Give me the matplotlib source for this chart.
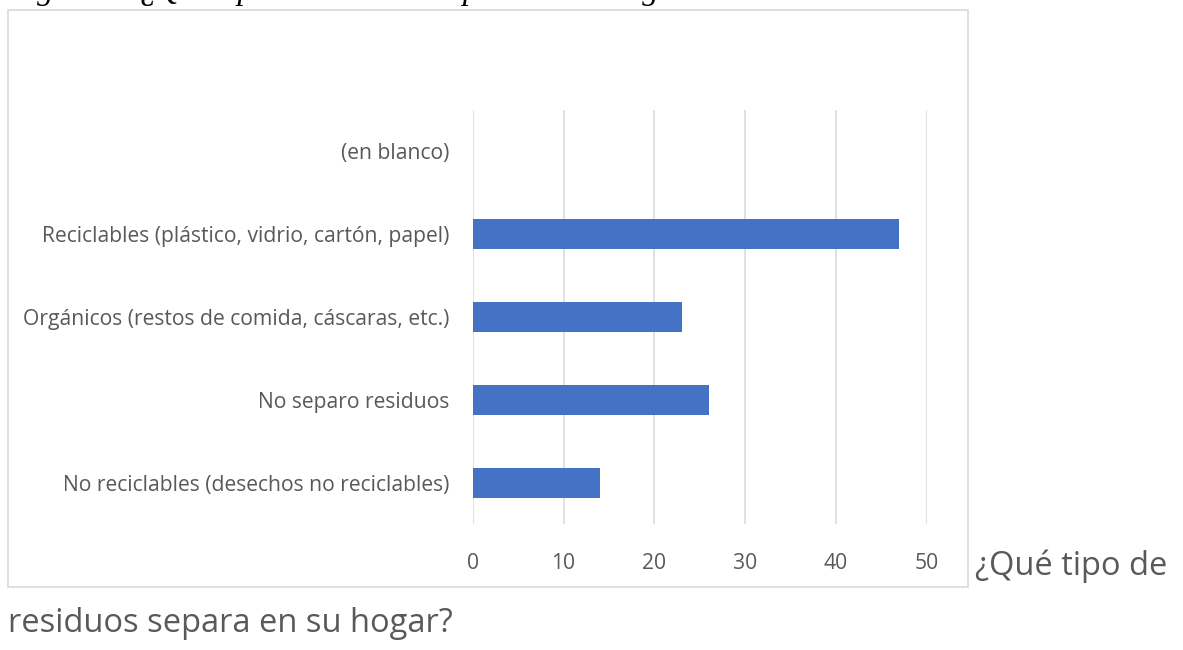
import matplotlib
matplotlib.use("Agg")
import matplotlib.pyplot as plt
from matplotlib.patches import Rectangle

categories = [
    "No reciclables (desechos no reciclables)",
    "No separo residuos",
    "Orgánicos (restos de comida, cáscaras, etc.)",
    "Reciclables (plástico, vidrio, cartón, papel)",
    "(en blanco)",
]
counts = [14, 26, 23, 47, 0]
x_ticks = [0, 10, 20, 30, 40, 50]

W, H = 1183, 650
fig = plt.figure(figsize=(W / 100, H / 100), dpi=100)
fig.patch.set_facecolor("white")

# chart frame (light gray box)
fig.patches.append(Rectangle((8 / W, 1 - 587 / H), 960 / W, 577 / H,
                             transform=fig.transFigure, fill=False,
                             edgecolor="#D9D9D9", linewidth=1.2))

ax = fig.add_axes([472.7 / W, 1 - 524 / H, 454 / W, 414 / H])
ypos = list(range(len(categories)))
ax.barh(ypos, counts, height=0.36, color="#4472C4", linewidth=0, zorder=3)

ax.set_xlim(0, 50)
ax.set_ylim(-0.5, len(categories) - 0.5)
ax.set_xticks(x_ticks)
ax.set_yticks(ypos)
ax.set_yticklabels(categories)
ax.grid(axis="x", color="#D9D9D9", linewidth=1.1, zorder=0)
ax.set_axisbelow(True)
for s in ax.spines.values():
    s.set_visible(False)
ax.tick_params(axis="x", length=0, pad=21, labelsize=15.2, labelcolor="#595959")
ax.tick_params(axis="y", length=0, pad=17, labelsize=15.2, labelcolor="#595959")
for lbl in ax.get_xticklabels() + ax.get_yticklabels():
    lbl.set_fontfamily("Open Sans")

# caption text outside the chart
fig.text(975 / W, 1 - 566 / H, "¿Qué tipo de", fontsize=23.5, color="#595959",
         family="Open Sans", va="center", ha="left")
fig.text(8 / W, 1 - 624 / H, "residuos separa en su hogar?", fontsize=23.5,
         color="#595959", family="Open Sans", va="center", ha="left")

# figure heading, cut off at the top of the image
fig.text(8 / W, 1 + 1.5 / H, "Figura 8. ¿Qué tipo de residuos separa en su hogar?",
         fontsize=23.6, style="italic", family="Liberation Serif", color="black",
         va="baseline", ha="left")

fig.savefig("out.png", dpi=100, facecolor="white")
